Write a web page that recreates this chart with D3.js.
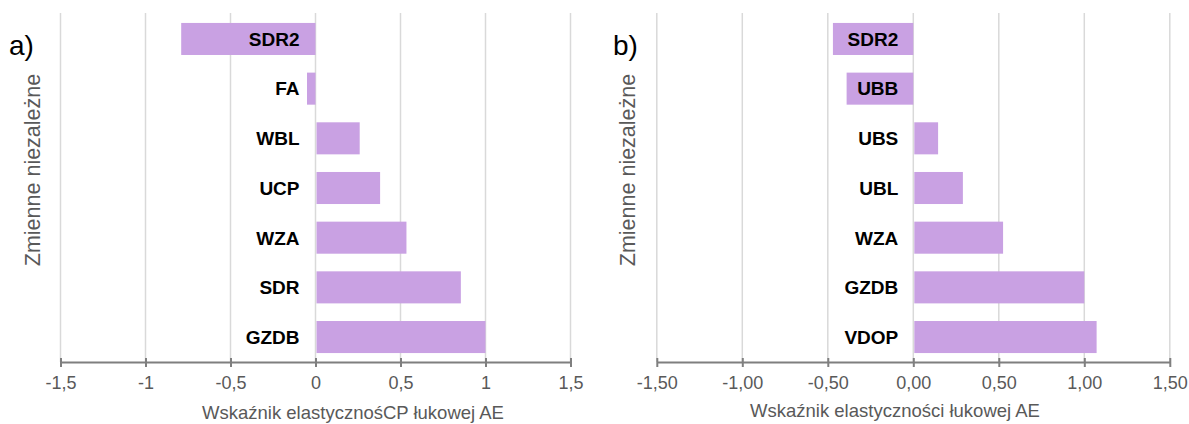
<!DOCTYPE html>
<html>
<head>
<meta charset="utf-8">
<script src="https://cdn.jsdelivr.net/npm/d3@7"></script>
<style>
  body { margin: 0; background: #fff; }
  svg { display: block; font-family: "Liberation Sans", Arial, sans-serif; }
</style>
</head>
<body>
<svg id="chart" width="1189" height="424"></svg>
<script>
// ---- data ----
const categoriesA = ["SDR2", "FA", "WBL", "UCP", "WZA", "SDR", "GZDB"];
const valuesA = [-0.79, -0.05, 0.26, 0.38, 0.535, 0.855, 1.0];
const ticksA = [-1.5, -1, -0.5, 0, 0.5, 1, 1.5];
const tickLabelsA = ["-1,5", "-1", "-0,5", "0", "0,5", "1", "1,5"];

const categoriesB = ["SDR2", "UBB", "UBS", "UBL", "WZA", "GZDB", "VDOP"];
const valuesB = [-0.47, -0.39, 0.145, 0.29, 0.525, 1.0, 1.072];
const ticksB = [-1.5, -1, -0.5, 0, 0.5, 1, 1.5];
const tickLabelsB = ["-1,50", "-1,00", "-0,50", "0,00", "0,50", "1,00", "1,50"];

const panelLabels = ["a)", "b)"];
const xTitles = ["Wskaźnik elastycznośCP łukowej AE", "Wskaźnik elastyczności łukowej AE"];
const yTitle = "Zmienne niezależne";

// ---- layout ----
const svg = d3.select("#chart");
const barColor = "#c9a1e3";
const gridColor = "#d9d9d9";
const axisColor = "#7f7f7f";
const textGray = "#595959";

const panels = [
  { cats: categoriesA, vals: valuesA, ticks: ticksA, tl: tickLabelsA,
    x0: 60.5, x1: 570.5, label: panelLabels[0], labelX: 9, yTitleX: 40, xTitle: xTitles[0], xTitleX: 353, xTitleY: 419, labelOff: 16 },
  { cats: categoriesB, vals: valuesB, ticks: ticksB, tl: tickLabelsB,
    x0: 656.8, x1: 1169.8, label: panelLabels[1], labelX: 613, yTitleX: 635, xTitle: xTitles[1], xTitleX: 895, xTitleY: 417, labelOff: 15 }
];

const yTop = 14, yBottom = 362;

panels.forEach(p => {
  const g = svg.append("g");
  const x = d3.scaleLinear().domain([-1.5, 1.5]).range([p.x0, p.x1]);
  const y = d3.scaleBand().domain(p.cats).range([yTop, yBottom]).paddingInner(0.355).paddingOuter(0.18);

  // gridlines
  g.selectAll("line.grid").data(p.ticks).enter().append("line")
    .attr("x1", d => x(d)).attr("x2", d => x(d))
    .attr("y1", yTop - 1).attr("y2", yBottom)
    .attr("stroke", gridColor).attr("stroke-width", 1.5);

  // bars
  g.selectAll("rect.bar").data(p.vals).enter().append("rect")
    .attr("x", d => Math.min(x(0), x(d)) + (d >= 0 ? 1 : 0))
    .attr("y", (d, i) => y(p.cats[i]))
    .attr("width", d => Math.abs(x(d) - x(0)) - (d >= 0 ? 1 : 0))
    .attr("height", y.bandwidth())
    .attr("fill", barColor);

  // category labels
  g.selectAll("text.cat").data(p.cats).enter().append("text")
    .attr("x", x(0) - p.labelOff)
    .attr("y", d => y(d) + y.bandwidth() / 2)
    .attr("dy", "0.36em")
    .attr("text-anchor", "end")
    .attr("font-weight", "bold")
    .attr("font-size", "19px")
    .attr("fill", "#000")
    .text(d => d);

  // x axis
  const axis = d3.axisBottom(x).tickValues(p.ticks)
    .tickFormat((d, i) => p.tl[i]).tickSize(5).tickSizeOuter(0);
  const ag = g.append("g").attr("transform", `translate(0,${yBottom})`).call(axis);
  ag.select(".domain").attr("stroke", axisColor).attr("stroke-width", 2.2);
  ag.selectAll(".tick line").attr("stroke", axisColor).attr("stroke-width", 2)
    .attr("y1", -4).attr("y2", 5);
  ag.selectAll(".tick text").attr("fill", textGray).attr("font-size", "18px")
    .attr("font-family", "'Liberation Sans', Arial, sans-serif")
    .attr("y", 14).attr("dy", "0.71em");

  // x title
  g.append("text").attr("x", p.xTitleX).attr("y", p.xTitleY)
    .attr("text-anchor", "middle").attr("font-size", "18.5px").attr("fill", textGray)
    .text(p.xTitle);

  // y title
  g.append("text")
    .attr("transform", `translate(${p.yTitleX},${170}) rotate(-90)`)
    .attr("text-anchor", "middle").attr("font-size", "21.5px").attr("fill", textGray)
    .text(yTitle);

  // panel label
  g.append("text").attr("x", p.labelX).attr("y", 55)
    .attr("font-size", "28px").attr("fill", "#000")
    .text(p.label);
});
</script>
</body>
</html>
